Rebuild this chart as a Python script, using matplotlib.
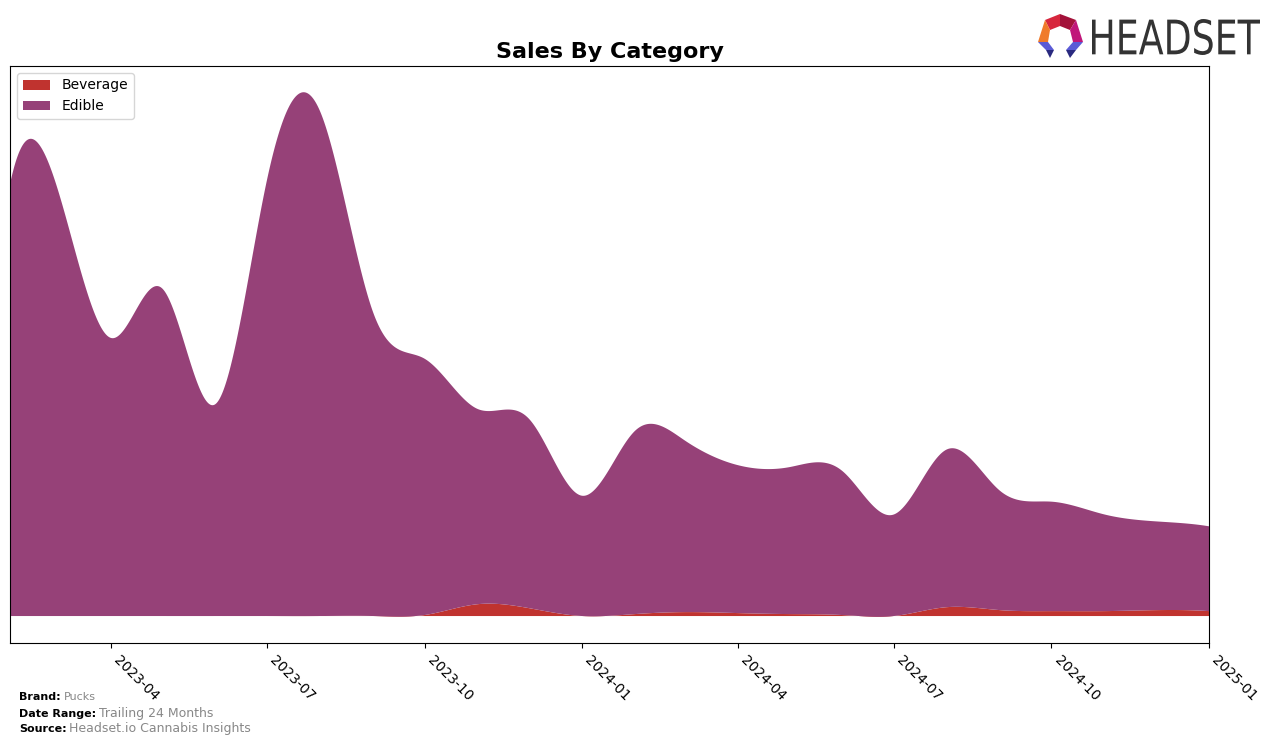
import numpy as np
import pandas as pd
import matplotlib
matplotlib.use("Agg")
import matplotlib.pyplot as plt
import matplotlib.dates as mdates
from matplotlib.patches import Polygon, PathPatch
from matplotlib.textpath import TextPath
from matplotlib.font_manager import FontProperties
from matplotlib.transforms import Affine2D

# ---- data (monthly, arbitrary sales units) ----
months = pd.date_range("2023-02-01", periods=24, freq="MS")
beverage = [0, 0, 0, 0, 0, 0, 0, 0, 1, 12, 8, 0,
            2, 4, 3, 2, 1, 0, 9, 6, 5, 5, 6, 5]
edible = [438, 432, 282, 332, 215, 442, 512, 308, 260, 198, 192, 122,
          186, 174, 150, 149, 146, 103, 160, 121, 111, 98, 90, 86]
categories = ["Beverage", "Edible"]
colors = ["#c0332f", "#964178"]
tick_dates = pd.date_range("2023-04-01", "2025-01-01", freq="QS")


def spline(x, y, xs):
    """Cubic interpolating spline with not-a-knot end conditions."""
    x = np.asarray(x, float)
    y = np.asarray(y, float)
    n = len(x)
    h = np.diff(x)
    A = np.zeros((n, n))
    r = np.zeros(n)
    A[0, 0], A[0, 1], A[0, 2] = h[1], -(h[0] + h[1]), h[0]
    A[-1, -3], A[-1, -2], A[-1, -1] = h[-1], -(h[-2] + h[-1]), h[-2]
    for i in range(1, n - 1):
        A[i, i - 1] = h[i - 1]
        A[i, i] = 2 * (h[i - 1] + h[i])
        A[i, i + 1] = h[i]
        r[i] = 6 * ((y[i + 1] - y[i]) / h[i] - (y[i] - y[i - 1]) / h[i - 1])
    M = np.linalg.solve(A, r)
    idx = np.clip(np.searchsorted(x, xs) - 1, 0, n - 2)
    x0, x1 = x[idx], x[idx + 1]
    hh = x1 - x0
    return (M[idx] * (x1 - xs) ** 3 / (6 * hh) + M[idx + 1] * (xs - x0) ** 3 / (6 * hh)
            + (y[idx] / hh - M[idx] * hh / 6) * (x1 - xs)
            + (y[idx + 1] / hh - M[idx + 1] * hh / 6) * (xs - x0))


xd = mdates.date2num(months.to_pydatetime())
xs = np.linspace(xd[0], xd[-1], 1500)
bev_s = spline(xd, beverage, xs)
edi_s = spline(xd, edible, xs)

fig = plt.figure(figsize=(12.76, 7.45), dpi=100)
ax = fig.add_axes([10 / 1276, 1 - 643 / 745, 1199 / 1276, 577 / 745])
ax.stackplot(xs, bev_s, edi_s, labels=categories, colors=colors)
ax.set_xlim(xd[0], xd[-1])
ax.set_yticks([])
ax.set_xticks(mdates.date2num(tick_dates.to_pydatetime()))
ax.xaxis.set_major_formatter(mdates.DateFormatter("%Y-%m"))
plt.setp(ax.get_xticklabels(), rotation=-45, ha="left", fontsize=10)
ax.set_title("Sales By Category", fontsize=16, fontweight="bold")
ax.legend(loc="upper left", fontsize=10)


# ---- footer ----
def footer(y, label, value, vsize):
    t = fig.text(19 / 1276, y, label, fontsize=8, fontweight="bold", va="baseline")
    ax.annotate(value, xy=(1, y), xycoords=(t, "figure fraction"),
                xytext=(2, 0), textcoords="offset points",
                fontsize=vsize, color="#888888", va="baseline")


footer(1 - 700 / 745, "Brand:", "Pucks", 8)
footer(1 - 717 / 745, "Date Range:", "Trailing 24 Months", 9)
footer(1 - 732 / 745, "Source:", "Headset.io Cannabis Insights", 9)

# ---- logo ----
lax = fig.add_axes([1030 / 1276, 1 - 64 / 745, 240 / 1276, 56 / 745])
lax.set_xlim(1030, 1270)
lax.set_ylim(64, 8)
lax.axis("off")
polys = [
    ([(1045, 20), (1060, 14), (1060, 26), (1050, 30)], "#d7263d"),
    ([(1060, 14), (1076, 20), (1070, 30), (1060, 26)], "#a3123a"),
    ([(1045, 20), (1050, 30), (1048, 42), (1038, 42)], "#f07a2a"),
    ([(1076, 20), (1083, 42), (1073, 42), (1070, 30)], "#c0177a"),
    ([(1038, 42), (1048, 42), (1054, 50), (1046, 50)], "#5b5bd6"),
    ([(1046, 50), (1054, 50), (1050, 58)], "#2a2a80"),
    ([(1073, 42), (1083, 42), (1076, 50), (1066, 50)], "#5b5bd6"),
    ([(1066, 50), (1076, 50), (1070, 58)], "#2a2a80"),
]
for pts, c in polys:
    lax.add_patch(Polygon(pts, closed=True, color=c, lw=0))

tp = TextPath((0, 0), "HEADSET", size=10, prop=FontProperties(family="DejaVu Sans"))
bb = tp.get_extents()
sx = (1260 - 1092) / bb.width
sy = (55 - 19) / bb.height
tr = Affine2D().translate(-bb.x0, -bb.y0).scale(sx, -sy).translate(1092, 55)
lax.add_patch(PathPatch(tr.transform_path(tp), color="#333333", lw=0))

fig.savefig("out.png", dpi=100)
